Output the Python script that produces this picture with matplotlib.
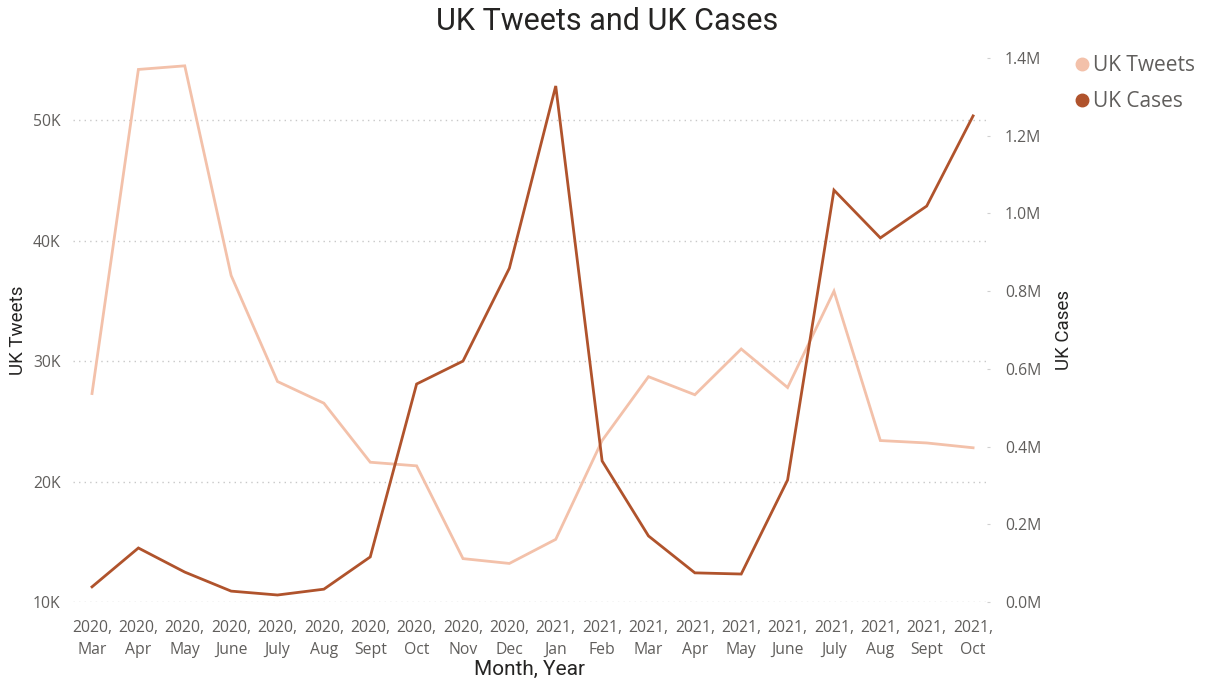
import matplotlib
matplotlib.use("Agg")
import matplotlib.pyplot as plt
from matplotlib.lines import Line2D

months = ["Mar", "Apr", "May", "June", "July", "Aug", "Sept", "Oct", "Nov", "Dec",
          "Jan", "Feb", "Mar", "Apr", "May", "June", "July", "Aug", "Sept", "Oct"]
years = ["2020"] * 10 + ["2021"] * 10
uk_tweets = [27300, 54200, 54500, 37100, 28300, 26500, 21600, 21300, 13600, 13200,
             15200, 23400, 28700, 27200, 31000, 27800, 35800, 23400, 23200, 22800]
uk_cases = [39000, 139000, 77000, 28000, 18000, 33000, 116000, 561000, 620000, 859000,
            1328000, 363000, 170000, 75000, 72000, 314000, 1060000, 937000, 1019000, 1251000]

left_ticks = [10000, 20000, 30000, 40000, 50000]
right_ticks = [0, 200000, 400000, 600000, 800000, 1000000, 1200000, 1400000]

c_tweets = "#F3C1AA"
c_cases = "#B0532C"
grey = "#605E5C"
dark = "#252423"
font = ["Open Sans", "DejaVu Sans"]
tfont = ["Roboto", "DejaVu Sans"]

fig = plt.figure(figsize=(12.05, 6.81), dpi=100)
ax = fig.add_axes([73 / 1205, 1 - 602 / 681, (987 - 73) / 1205, (602 - 58) / 681])
ax2 = ax.twinx()

x = list(range(len(months)))
ax.plot(x, uk_tweets, color=c_tweets, lw=2.0, solid_joinstyle="miter", zorder=3)
ax2.plot(x, uk_cases, color=c_cases, lw=2.0, solid_joinstyle="miter", zorder=3)

ax.set_xlim(-0.41, 19.3)
ax.set_ylim(10000, 55150)
ax2.set_ylim(0, 1400000)

ax.set_yticks(left_ticks)
ax.set_yticklabels([f"{int(v/1000)}K" for v in left_ticks], fontsize=11.3, color=grey, family=font)
ax2.set_yticks(right_ticks)
ax2.set_yticklabels([f"{v/1e6:.1f}M" for v in right_ticks], fontsize=11.3, color=grey, family=font)
ax.set_xticks(x)
ax.set_xticklabels([f"{y},\n{m}" for y, m in zip(years, months)], fontsize=11.3,
                   color=grey, family=font, linespacing=1.5)

ax.grid(axis="y", color="#C8C8C8", linestyle=(0, (1, 3)), lw=1)
for a in (ax, ax2):
    for s in a.spines.values():
        s.set_visible(False)
ax.tick_params(axis="x", length=0, pad=13)
ax.tick_params(axis="y", length=0, pad=9)
ax2.tick_params(axis="y", length=2, color="#D0D0D0", pad=11)

ax.set_ylabel("UK Tweets", fontsize=13.5, color=dark, family=tfont, labelpad=4)
ax2.set_ylabel("UK Cases", fontsize=13.5, color=dark, family=tfont, labelpad=10)
ax.set_xlabel("Month, Year", fontsize=15, color=dark, family=tfont, labelpad=1)

fig.text(607 / 1205, 1 - 22 / 681, "UK Tweets and UK Cases", fontsize=22, color=dark,
         family=tfont, ha="center", va="center")

handles = [Line2D([], [], marker="o", ls="", color=c_tweets, markersize=9),
           Line2D([], [], marker="o", ls="", color=c_cases, markersize=9)]
leg = fig.legend(handles, ["UK Tweets", "UK Cases"], loc="upper left",
                 bbox_to_anchor=(1073 / 1205, 1 - 55 / 681), frameon=False,
                 prop={"family": font, "size": 15}, handletextpad=0.05,
                 labelspacing=0.72, handlelength=0.9, borderaxespad=0, borderpad=0)
for t in leg.get_texts():
    t.set_color(grey)

fig.savefig("out.png", dpi=100, facecolor="white")
